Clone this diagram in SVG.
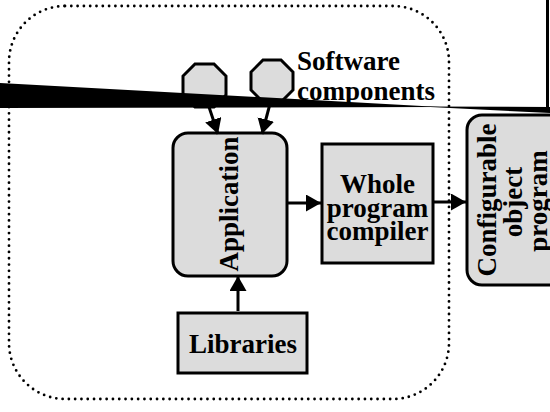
<svg xmlns="http://www.w3.org/2000/svg" width="550" height="412" viewBox="0 0 550 412">
  <style>
    .box { fill: #dcdcdc; stroke: #000; stroke-width: 3; }
    .lbl { font-family: "Liberation Serif", "Times New Roman", serif; font-weight: bold; font-size: 27px; fill: #000; }
    .mid { text-anchor: middle; }
    .conn { stroke: #000; stroke-width: 3; fill: none; marker-end: url(#head); }
    .frame { fill: none; stroke: #000; stroke-width: 2.8; stroke-dasharray: 0 6.3; stroke-linecap: round; }
  </style>
  <defs>
    <marker id="head" markerUnits="userSpaceOnUse" markerWidth="16" markerHeight="18" refX="15" refY="8.5" orient="auto">
      <path d="M0,0 L15,8.5 L0,17 Z" fill="#000"/>
    </marker>
  </defs>

  <rect width="550" height="412" fill="#fff"/>

  <!-- dotted boundary of the build environment -->
  <rect class="frame" x="9" y="6" width="440" height="393" rx="56" ry="56"/>

  <!-- software component octagons -->
  <g id="component-1">
    <polygon class="box" points="195,64 214,64 226,76 226,95 214,107 195,107 183,95 183,76"/>
  </g>
  <g id="component-2">
    <polygon class="box" points="263,60 281,60 293,72 293,90 281,102 263,102 251,90 251,72"/>
  </g>

  <!-- black wedge strokes crossing the top -->
  <polygon points="0,83 440,107 0,108" fill="#000"/>
  <polygon points="420,106.5 550,107 550,113" fill="#000"/>
  <line x1="547.5" y1="0" x2="547.5" y2="108" stroke="#000" stroke-width="3"/>

  <g id="software-components-label">
    <text class="lbl" x="297" y="70">Software</text>
    <text class="lbl" x="297" y="100">components</text>
  </g>

  <g id="application">
    <rect class="box" x="173" y="133" width="114" height="143" rx="15" ry="15"/>
    <text class="lbl mid" transform="translate(238,204) rotate(-90)">Application</text>
  </g>

  <g id="compiler">
    <rect class="box" x="322" y="144" width="111" height="119"/>
    <text class="lbl mid" x="377.5" y="193">Whole</text>
    <text class="lbl mid" x="377.5" y="217">program</text>
    <text class="lbl mid" x="377.5" y="240">compiler</text>
  </g>

  <g id="libraries">
    <rect class="box" x="178" y="313" width="129" height="60"/>
    <text class="lbl mid" x="243" y="353">Libraries</text>
  </g>

  <g id="configurable-object-program">
    <rect class="box" x="467" y="115" width="110" height="170" rx="15" ry="15"/>
    <text class="lbl mid" transform="translate(496,200) rotate(-90)">Configurable</text>
    <text class="lbl mid" transform="translate(522,202) rotate(-90)">object</text>
    <text class="lbl mid" transform="translate(547,201) rotate(-90)">program</text>
  </g>

  <g id="connectors">
    <line class="conn" x1="209" y1="107" x2="218" y2="134"/>
    <line class="conn" x1="271" y1="100" x2="262" y2="134"/>
    <line class="conn" x1="287" y1="203" x2="321" y2="203"/>
    <line class="conn" x1="433" y1="202" x2="466" y2="202"/>
    <line class="conn" x1="238" y1="311" x2="238" y2="276"/>
  </g>
</svg>
